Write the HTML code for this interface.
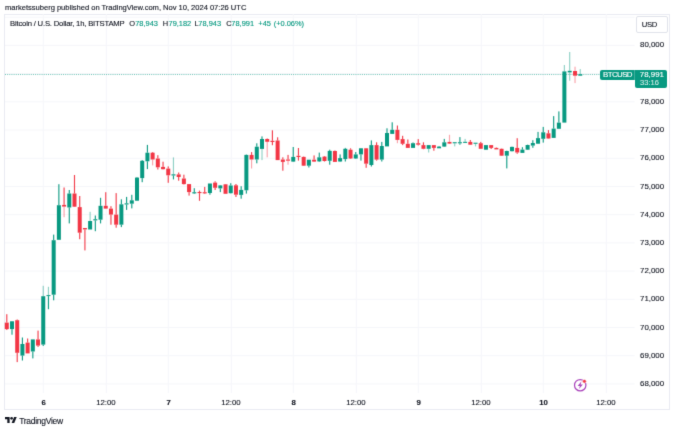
<!DOCTYPE html>
<html><head><meta charset="utf-8"><title>BTCUSD</title>
<style>
html,body{margin:0;padding:0;background:#fff;}
body{width:675px;height:429px;position:relative;overflow:hidden;font-family:"Liberation Sans",sans-serif;}
#all{position:absolute;left:0;top:0;width:675px;height:429px;filter:url(#soft);background:#fff;}
.t{position:absolute;white-space:nowrap;font-family:"Liberation Sans",sans-serif;-webkit-text-stroke:0.12px currentColor;}
#frame{position:absolute;left:4.3px;top:13.7px;width:665.9px;height:396.4px;border:1px solid #e9ebf2;box-sizing:border-box;}
#chart{position:absolute;left:0;top:0;}
.usd{position:absolute;left:636.2px;top:16.1px;width:31.7px;height:16.6px;border:1px solid #e0e3eb;border-radius:2px;box-sizing:border-box;background:#fff;}
.lbl{position:absolute;background:#089981;color:#fff;}
</style></head><body>
<svg width="0" height="0" style="position:absolute"><defs>
<filter id="soft" x="0" y="0" width="100%" height="100%" color-interpolation-filters="sRGB">
<feConvolveMatrix order="3" kernelMatrix="0.0113 0.0838 0.0113 0.0838 0.6193 0.0838 0.0113 0.0838 0.0113" edgeMode="duplicate" preserveAlpha="false"/>
</filter></defs></svg>
<div id="all">
<div id="frame"></div>
<svg id="chart" width="675" height="429" viewBox="0 0 675 429" shape-rendering="auto">
<rect x="5" y="16.69" width="629.6" height="1" fill="#f5f6fa"/>
<rect x="5" y="44.90" width="629.6" height="1" fill="#f5f6fa"/>
<rect x="5" y="73.11" width="629.6" height="1" fill="#f5f6fa"/>
<rect x="5" y="101.32" width="629.6" height="1" fill="#f5f6fa"/>
<rect x="5" y="129.53" width="629.6" height="1" fill="#f5f6fa"/>
<rect x="5" y="157.74" width="629.6" height="1" fill="#f5f6fa"/>
<rect x="5" y="185.95" width="629.6" height="1" fill="#f5f6fa"/>
<rect x="5" y="214.16" width="629.6" height="1" fill="#f5f6fa"/>
<rect x="5" y="242.37" width="629.6" height="1" fill="#f5f6fa"/>
<rect x="5" y="270.58" width="629.6" height="1" fill="#f5f6fa"/>
<rect x="5" y="298.79" width="629.6" height="1" fill="#f5f6fa"/>
<rect x="5" y="327.00" width="629.6" height="1" fill="#f5f6fa"/>
<rect x="5" y="355.21" width="629.6" height="1" fill="#f5f6fa"/>
<rect x="5" y="383.42" width="629.6" height="1" fill="#f5f6fa"/>
<rect x="42.75" y="14" width="1" height="379" fill="#f5f6fa"/>
<rect x="105.80" y="14" width="1" height="379" fill="#f5f6fa"/>
<rect x="167.75" y="14" width="1" height="379" fill="#f5f6fa"/>
<rect x="230.80" y="14" width="1" height="379" fill="#f5f6fa"/>
<rect x="292.75" y="14" width="1" height="379" fill="#f5f6fa"/>
<rect x="355.80" y="14" width="1" height="379" fill="#f5f6fa"/>
<rect x="417.75" y="14" width="1" height="379" fill="#f5f6fa"/>
<rect x="480.80" y="14" width="1" height="379" fill="#f5f6fa"/>
<rect x="542.75" y="14" width="1" height="379" fill="#f5f6fa"/>
<rect x="605.80" y="14" width="1" height="379" fill="#f5f6fa"/>
<line x1="5" y1="74.5" x2="600" y2="74.5" stroke="#089981" stroke-width="1" stroke-dasharray="1 1.15" opacity="0.58"/>
<rect x="6.22" y="314.2" width="1.15" height="8.4" fill="#f23645" opacity="0.95"/>
<rect x="6.22" y="329.1" width="1.15" height="0.9" fill="#f23645" opacity="0.95"/>
<rect x="4.79" y="322.6" width="4.0" height="6.5" fill="#f23645"/>
<rect x="11.43" y="321.0" width="1.15" height="0.3" fill="#089981" opacity="0.95"/>
<rect x="11.43" y="329.1" width="1.15" height="5.6" fill="#089981" opacity="0.95"/>
<rect x="10.00" y="321.3" width="4.0" height="7.8" fill="#089981"/>
<rect x="16.63" y="319.5" width="1.15" height="0.7" fill="#f23645" opacity="0.95"/>
<rect x="16.63" y="352.8" width="1.15" height="9.3" fill="#f23645" opacity="0.95"/>
<rect x="15.21" y="320.2" width="4.0" height="32.6" fill="#f23645"/>
<rect x="21.84" y="337.5" width="1.15" height="6.5" fill="#089981" opacity="0.95"/>
<rect x="21.84" y="355.6" width="1.15" height="4.9" fill="#089981" opacity="0.95"/>
<rect x="20.42" y="344.0" width="4.0" height="11.6" fill="#089981"/>
<rect x="27.05" y="338.5" width="1.15" height="4.1" fill="#f23645" opacity="0.95"/>
<rect x="25.63" y="342.6" width="4.0" height="10.8" fill="#f23645"/>
<rect x="32.26" y="351.5" width="1.15" height="6.9" fill="#089981" opacity="0.95"/>
<rect x="30.83" y="339.4" width="4.0" height="12.1" fill="#089981"/>
<rect x="37.47" y="330.6" width="1.15" height="8.8" fill="#f23645" opacity="0.95"/>
<rect x="37.47" y="345.6" width="1.15" height="1.3" fill="#f23645" opacity="0.95"/>
<rect x="36.04" y="339.4" width="4.0" height="6.2" fill="#f23645"/>
<rect x="42.67" y="285.8" width="1.15" height="10.4" fill="#089981" opacity="0.45"/>
<rect x="42.67" y="344.6" width="1.15" height="1.4" fill="#089981" opacity="0.95"/>
<rect x="41.25" y="296.2" width="4.0" height="48.4" fill="#089981"/>
<rect x="47.88" y="286.8" width="1.15" height="8.3" fill="#089981" opacity="0.45"/>
<rect x="47.88" y="296.1" width="1.15" height="13.1" fill="#089981" opacity="0.95"/>
<rect x="46.46" y="295.1" width="4.0" height="1.0" fill="#089981"/>
<rect x="53.09" y="234.6" width="1.15" height="5.6" fill="#089981" opacity="0.95"/>
<rect x="53.09" y="294.7" width="1.15" height="5.6" fill="#089981" opacity="0.95"/>
<rect x="51.67" y="240.2" width="4.0" height="54.5" fill="#089981"/>
<rect x="58.30" y="184.2" width="1.15" height="21.0" fill="#089981" opacity="0.95"/>
<rect x="56.87" y="205.2" width="4.0" height="34.6" fill="#089981"/>
<rect x="63.51" y="187.5" width="1.15" height="17.4" fill="#f23645" opacity="0.95"/>
<rect x="63.51" y="206.6" width="1.15" height="10.6" fill="#f23645" opacity="0.45"/>
<rect x="62.08" y="204.9" width="4.0" height="1.7" fill="#f23645"/>
<rect x="68.72" y="190.0" width="1.15" height="3.5" fill="#089981" opacity="0.95"/>
<rect x="68.72" y="207.5" width="1.15" height="15.9" fill="#089981" opacity="0.95"/>
<rect x="67.29" y="193.5" width="4.0" height="14.0" fill="#089981"/>
<rect x="73.92" y="175.0" width="1.15" height="18.5" fill="#f23645" opacity="0.95"/>
<rect x="73.92" y="206.7" width="1.15" height="0.3" fill="#f23645" opacity="0.95"/>
<rect x="72.50" y="193.5" width="4.0" height="13.2" fill="#f23645"/>
<rect x="79.13" y="196.0" width="1.15" height="11.1" fill="#f23645" opacity="0.95"/>
<rect x="79.13" y="232.7" width="1.15" height="6.5" fill="#f23645" opacity="0.95"/>
<rect x="77.71" y="207.1" width="4.0" height="25.6" fill="#f23645"/>
<rect x="84.34" y="229.4" width="1.15" height="21.0" fill="#f23645" opacity="0.95"/>
<rect x="82.92" y="228.0" width="4.0" height="1.4" fill="#f23645"/>
<rect x="89.55" y="211.8" width="1.15" height="9.2" fill="#089981" opacity="0.45"/>
<rect x="88.12" y="221.0" width="4.0" height="8.5" fill="#089981"/>
<rect x="94.76" y="215.5" width="1.15" height="3.7" fill="#089981" opacity="0.95"/>
<rect x="94.76" y="220.4" width="1.15" height="10.8" fill="#089981" opacity="0.95"/>
<rect x="93.33" y="219.2" width="4.0" height="1.2" fill="#089981"/>
<rect x="99.97" y="197.8" width="1.15" height="8.0" fill="#089981" opacity="0.95"/>
<rect x="99.97" y="219.7" width="1.15" height="3.7" fill="#089981" opacity="0.95"/>
<rect x="98.54" y="205.8" width="4.0" height="13.9" fill="#089981"/>
<rect x="105.17" y="192.2" width="1.15" height="13.6" fill="#f23645" opacity="0.95"/>
<rect x="105.17" y="208.6" width="1.15" height="0.4" fill="#f23645" opacity="0.45"/>
<rect x="103.75" y="205.8" width="4.0" height="2.8" fill="#f23645"/>
<rect x="110.38" y="206.2" width="1.15" height="2.4" fill="#f23645" opacity="0.95"/>
<rect x="110.38" y="214.6" width="1.15" height="10.1" fill="#f23645" opacity="0.95"/>
<rect x="108.96" y="208.6" width="4.0" height="6.0" fill="#f23645"/>
<rect x="115.59" y="193.1" width="1.15" height="21.5" fill="#f23645" opacity="0.95"/>
<rect x="115.59" y="224.7" width="1.15" height="3.0" fill="#f23645" opacity="0.95"/>
<rect x="114.17" y="214.6" width="4.0" height="10.1" fill="#f23645"/>
<rect x="120.80" y="199.3" width="1.15" height="5.0" fill="#089981" opacity="0.95"/>
<rect x="120.80" y="224.7" width="1.15" height="2.4" fill="#089981" opacity="0.95"/>
<rect x="119.37" y="204.3" width="4.0" height="20.4" fill="#089981"/>
<rect x="126.01" y="196.9" width="1.15" height="6.4" fill="#089981" opacity="0.95"/>
<rect x="126.01" y="204.5" width="1.15" height="5.4" fill="#089981" opacity="0.95"/>
<rect x="124.58" y="203.3" width="4.0" height="1.2" fill="#089981"/>
<rect x="131.22" y="194.8" width="1.15" height="5.5" fill="#089981" opacity="0.95"/>
<rect x="131.22" y="203.7" width="1.15" height="4.7" fill="#089981" opacity="0.95"/>
<rect x="129.79" y="200.3" width="4.0" height="3.4" fill="#089981"/>
<rect x="136.42" y="177.0" width="1.15" height="0.6" fill="#089981" opacity="0.95"/>
<rect x="136.42" y="200.7" width="1.15" height="0.3" fill="#089981" opacity="0.95"/>
<rect x="135.00" y="177.6" width="4.0" height="23.1" fill="#089981"/>
<rect x="141.63" y="160.0" width="1.15" height="0.8" fill="#089981" opacity="0.95"/>
<rect x="141.63" y="178.1" width="1.15" height="4.1" fill="#089981" opacity="0.95"/>
<rect x="140.21" y="160.8" width="4.0" height="17.3" fill="#089981"/>
<rect x="146.84" y="144.9" width="1.15" height="7.8" fill="#089981" opacity="0.95"/>
<rect x="146.84" y="161.3" width="1.15" height="7.8" fill="#089981" opacity="0.95"/>
<rect x="145.42" y="152.7" width="4.0" height="8.6" fill="#089981"/>
<rect x="152.05" y="152.0" width="1.15" height="0.7" fill="#f23645" opacity="0.95"/>
<rect x="152.05" y="159.5" width="1.15" height="5.9" fill="#f23645" opacity="0.45"/>
<rect x="150.62" y="152.7" width="4.0" height="6.8" fill="#f23645"/>
<rect x="157.26" y="155.2" width="1.15" height="3.3" fill="#f23645" opacity="0.95"/>
<rect x="157.26" y="167.3" width="1.15" height="2.2" fill="#f23645" opacity="0.95"/>
<rect x="155.83" y="158.5" width="4.0" height="8.8" fill="#f23645"/>
<rect x="162.47" y="161.7" width="1.15" height="5.2" fill="#f23645" opacity="0.95"/>
<rect x="162.47" y="169.2" width="1.15" height="0.3" fill="#f23645" opacity="0.95"/>
<rect x="161.04" y="166.9" width="4.0" height="2.3" fill="#f23645"/>
<rect x="167.67" y="166.4" width="1.15" height="2.2" fill="#f23645" opacity="0.95"/>
<rect x="167.67" y="175.3" width="1.15" height="7.5" fill="#f23645" opacity="0.95"/>
<rect x="166.25" y="168.6" width="4.0" height="6.7" fill="#f23645"/>
<rect x="172.88" y="157.4" width="1.15" height="16.9" fill="#089981" opacity="0.45"/>
<rect x="172.88" y="175.5" width="1.15" height="3.9" fill="#089981" opacity="0.95"/>
<rect x="171.46" y="174.3" width="4.0" height="1.2" fill="#089981"/>
<rect x="178.09" y="172.5" width="1.15" height="1.9" fill="#f23645" opacity="0.95"/>
<rect x="178.09" y="177.0" width="1.15" height="3.7" fill="#f23645" opacity="0.95"/>
<rect x="176.67" y="174.4" width="4.0" height="2.6" fill="#f23645"/>
<rect x="183.30" y="174.7" width="1.15" height="3.8" fill="#f23645" opacity="0.95"/>
<rect x="183.30" y="184.1" width="1.15" height="0.4" fill="#f23645" opacity="0.95"/>
<rect x="181.87" y="178.5" width="4.0" height="5.6" fill="#f23645"/>
<rect x="188.51" y="192.1" width="1.15" height="3.5" fill="#f23645" opacity="0.95"/>
<rect x="187.08" y="184.1" width="4.0" height="8.0" fill="#f23645"/>
<rect x="193.72" y="188.2" width="1.15" height="4.0" fill="#089981" opacity="0.95"/>
<rect x="193.72" y="193.4" width="1.15" height="0.6" fill="#089981" opacity="0.95"/>
<rect x="192.29" y="192.2" width="4.0" height="1.2" fill="#089981"/>
<rect x="198.92" y="190.6" width="1.15" height="1.4" fill="#f23645" opacity="0.95"/>
<rect x="198.92" y="193.1" width="1.15" height="7.7" fill="#f23645" opacity="0.95"/>
<rect x="197.50" y="192.0" width="4.0" height="1.1" fill="#f23645"/>
<rect x="204.13" y="186.9" width="1.15" height="5.3" fill="#f23645" opacity="0.95"/>
<rect x="204.13" y="193.4" width="1.15" height="0.6" fill="#f23645" opacity="0.95"/>
<rect x="202.71" y="192.2" width="4.0" height="1.2" fill="#f23645"/>
<rect x="209.34" y="193.0" width="1.15" height="1.7" fill="#089981" opacity="0.95"/>
<rect x="207.92" y="183.5" width="4.0" height="9.5" fill="#089981"/>
<rect x="214.55" y="181.3" width="1.15" height="1.3" fill="#f23645" opacity="0.95"/>
<rect x="214.55" y="187.8" width="1.15" height="2.2" fill="#f23645" opacity="0.95"/>
<rect x="213.12" y="182.6" width="4.0" height="5.2" fill="#f23645"/>
<rect x="219.76" y="185.0" width="1.15" height="0.4" fill="#089981" opacity="0.95"/>
<rect x="219.76" y="188.4" width="1.15" height="3.7" fill="#089981" opacity="0.95"/>
<rect x="218.33" y="185.4" width="4.0" height="3.0" fill="#089981"/>
<rect x="224.97" y="184.0" width="1.15" height="0.3" fill="#f23645" opacity="0.95"/>
<rect x="223.54" y="184.3" width="4.0" height="9.5" fill="#f23645"/>
<rect x="230.17" y="183.2" width="1.15" height="2.3" fill="#089981" opacity="0.95"/>
<rect x="230.17" y="193.2" width="1.15" height="0.3" fill="#089981" opacity="0.95"/>
<rect x="228.75" y="185.5" width="4.0" height="7.7" fill="#089981"/>
<rect x="235.38" y="184.0" width="1.15" height="1.3" fill="#f23645" opacity="0.95"/>
<rect x="235.38" y="194.7" width="1.15" height="2.3" fill="#f23645" opacity="0.95"/>
<rect x="233.96" y="185.3" width="4.0" height="9.4" fill="#f23645"/>
<rect x="240.59" y="186.2" width="1.15" height="3.7" fill="#089981" opacity="0.95"/>
<rect x="240.59" y="194.9" width="1.15" height="3.8" fill="#089981" opacity="0.95"/>
<rect x="239.17" y="189.9" width="4.0" height="5.0" fill="#089981"/>
<rect x="245.80" y="154.5" width="1.15" height="0.4" fill="#089981" opacity="0.95"/>
<rect x="245.80" y="190.3" width="1.15" height="3.3" fill="#089981" opacity="0.95"/>
<rect x="244.37" y="154.9" width="4.0" height="35.4" fill="#089981"/>
<rect x="251.01" y="152.1" width="1.15" height="2.8" fill="#f23645" opacity="0.95"/>
<rect x="251.01" y="159.5" width="1.15" height="9.0" fill="#f23645" opacity="0.45"/>
<rect x="249.58" y="154.9" width="4.0" height="4.6" fill="#f23645"/>
<rect x="256.22" y="143.3" width="1.15" height="3.4" fill="#089981" opacity="0.95"/>
<rect x="256.22" y="159.5" width="1.15" height="3.8" fill="#089981" opacity="0.95"/>
<rect x="254.79" y="146.7" width="4.0" height="12.8" fill="#089981"/>
<rect x="261.42" y="136.4" width="1.15" height="2.6" fill="#089981" opacity="0.95"/>
<rect x="261.42" y="148.9" width="1.15" height="11.2" fill="#089981" opacity="0.45"/>
<rect x="260.00" y="139.0" width="4.0" height="9.9" fill="#089981"/>
<rect x="266.63" y="138.5" width="1.15" height="0.5" fill="#f23645" opacity="0.95"/>
<rect x="266.63" y="141.8" width="1.15" height="15.5" fill="#f23645" opacity="0.45"/>
<rect x="265.21" y="139.0" width="4.0" height="2.8" fill="#f23645"/>
<rect x="271.84" y="130.3" width="1.15" height="10.5" fill="#f23645" opacity="0.95"/>
<rect x="271.84" y="142.0" width="1.15" height="3.2" fill="#f23645" opacity="0.95"/>
<rect x="270.42" y="140.8" width="4.0" height="1.2" fill="#f23645"/>
<rect x="277.05" y="137.3" width="1.15" height="3.2" fill="#f23645" opacity="0.95"/>
<rect x="275.62" y="140.5" width="4.0" height="19.6" fill="#f23645"/>
<rect x="282.26" y="157.3" width="1.15" height="2.2" fill="#f23645" opacity="0.95"/>
<rect x="282.26" y="161.9" width="1.15" height="8.8" fill="#f23645" opacity="0.95"/>
<rect x="280.83" y="159.5" width="4.0" height="2.4" fill="#f23645"/>
<rect x="287.47" y="154.9" width="1.15" height="4.6" fill="#f23645" opacity="0.95"/>
<rect x="287.47" y="160.7" width="1.15" height="4.0" fill="#f23645" opacity="0.45"/>
<rect x="286.04" y="159.5" width="4.0" height="1.2" fill="#f23645"/>
<rect x="292.67" y="147.0" width="1.15" height="9.9" fill="#089981" opacity="0.95"/>
<rect x="292.67" y="161.6" width="1.15" height="0.4" fill="#089981" opacity="0.95"/>
<rect x="291.25" y="156.9" width="4.0" height="4.7" fill="#089981"/>
<rect x="297.88" y="148.0" width="1.15" height="7.8" fill="#f23645" opacity="0.95"/>
<rect x="297.88" y="157.0" width="1.15" height="3.6" fill="#f23645" opacity="0.95"/>
<rect x="296.46" y="155.8" width="4.0" height="1.2" fill="#f23645"/>
<rect x="303.09" y="156.5" width="1.15" height="0.4" fill="#f23645" opacity="0.95"/>
<rect x="303.09" y="165.7" width="1.15" height="0.3" fill="#f23645" opacity="0.95"/>
<rect x="301.67" y="156.9" width="4.0" height="8.8" fill="#f23645"/>
<rect x="308.30" y="165.7" width="1.15" height="1.8" fill="#089981" opacity="0.95"/>
<rect x="306.87" y="159.7" width="4.0" height="6.0" fill="#089981"/>
<rect x="313.51" y="155.4" width="1.15" height="4.3" fill="#f23645" opacity="0.95"/>
<rect x="313.51" y="161.6" width="1.15" height="0.4" fill="#f23645" opacity="0.95"/>
<rect x="312.08" y="159.7" width="4.0" height="1.9" fill="#f23645"/>
<rect x="318.71" y="152.6" width="1.15" height="4.7" fill="#089981" opacity="0.95"/>
<rect x="318.71" y="161.4" width="1.15" height="0.6" fill="#089981" opacity="0.95"/>
<rect x="317.29" y="157.3" width="4.0" height="4.1" fill="#089981"/>
<rect x="323.92" y="156.0" width="1.15" height="0.6" fill="#f23645" opacity="0.95"/>
<rect x="323.92" y="161.0" width="1.15" height="0.5" fill="#f23645" opacity="0.95"/>
<rect x="322.50" y="156.6" width="4.0" height="4.4" fill="#f23645"/>
<rect x="329.13" y="149.7" width="1.15" height="1.2" fill="#089981" opacity="0.95"/>
<rect x="329.13" y="160.8" width="1.15" height="3.9" fill="#089981" opacity="0.95"/>
<rect x="327.71" y="150.9" width="4.0" height="9.9" fill="#089981"/>
<rect x="334.34" y="150.5" width="1.15" height="0.5" fill="#f23645" opacity="0.95"/>
<rect x="332.91" y="151.0" width="4.0" height="10.9" fill="#f23645"/>
<rect x="339.55" y="154.4" width="1.15" height="3.7" fill="#089981" opacity="0.95"/>
<rect x="339.55" y="161.5" width="1.15" height="0.5" fill="#089981" opacity="0.95"/>
<rect x="338.12" y="158.1" width="4.0" height="3.4" fill="#089981"/>
<rect x="344.76" y="147.9" width="1.15" height="0.9" fill="#089981" opacity="0.95"/>
<rect x="344.76" y="159.1" width="1.15" height="2.4" fill="#089981" opacity="0.95"/>
<rect x="343.33" y="148.8" width="4.0" height="10.3" fill="#089981"/>
<rect x="349.96" y="148.3" width="1.15" height="1.4" fill="#f23645" opacity="0.95"/>
<rect x="349.96" y="158.5" width="1.15" height="0.5" fill="#f23645" opacity="0.95"/>
<rect x="348.54" y="149.7" width="4.0" height="8.8" fill="#f23645"/>
<rect x="355.17" y="152.0" width="1.15" height="2.4" fill="#089981" opacity="0.95"/>
<rect x="355.17" y="158.5" width="1.15" height="0.5" fill="#089981" opacity="0.95"/>
<rect x="353.75" y="154.4" width="4.0" height="4.1" fill="#089981"/>
<rect x="360.38" y="148.0" width="1.15" height="0.3" fill="#089981" opacity="0.95"/>
<rect x="360.38" y="154.4" width="1.15" height="6.2" fill="#089981" opacity="0.95"/>
<rect x="358.96" y="148.3" width="4.0" height="6.1" fill="#089981"/>
<rect x="365.59" y="148.0" width="1.15" height="0.3" fill="#f23645" opacity="0.95"/>
<rect x="365.59" y="163.7" width="1.15" height="4.1" fill="#f23645" opacity="0.95"/>
<rect x="364.16" y="148.3" width="4.0" height="15.4" fill="#f23645"/>
<rect x="370.80" y="140.4" width="1.15" height="4.7" fill="#089981" opacity="0.95"/>
<rect x="370.80" y="165.0" width="1.15" height="1.5" fill="#089981" opacity="0.95"/>
<rect x="369.37" y="145.1" width="4.0" height="19.9" fill="#089981"/>
<rect x="376.01" y="142.3" width="1.15" height="2.8" fill="#f23645" opacity="0.95"/>
<rect x="376.01" y="159.6" width="1.15" height="1.0" fill="#f23645" opacity="0.95"/>
<rect x="374.58" y="145.1" width="4.0" height="14.5" fill="#f23645"/>
<rect x="381.21" y="141.9" width="1.15" height="4.1" fill="#089981" opacity="0.95"/>
<rect x="381.21" y="159.6" width="1.15" height="1.9" fill="#089981" opacity="0.95"/>
<rect x="379.79" y="146.0" width="4.0" height="13.6" fill="#089981"/>
<rect x="386.42" y="128.3" width="1.15" height="4.7" fill="#089981" opacity="0.95"/>
<rect x="385.00" y="133.0" width="4.0" height="13.4" fill="#089981"/>
<rect x="391.63" y="122.3" width="1.15" height="7.5" fill="#089981" opacity="0.95"/>
<rect x="390.21" y="129.8" width="4.0" height="4.1" fill="#089981"/>
<rect x="396.84" y="125.5" width="1.15" height="4.3" fill="#f23645" opacity="0.95"/>
<rect x="396.84" y="139.9" width="1.15" height="3.3" fill="#f23645" opacity="0.45"/>
<rect x="395.41" y="129.8" width="4.0" height="10.1" fill="#f23645"/>
<rect x="402.05" y="135.8" width="1.15" height="3.3" fill="#f23645" opacity="0.95"/>
<rect x="402.05" y="143.8" width="1.15" height="1.3" fill="#f23645" opacity="0.95"/>
<rect x="400.62" y="139.1" width="4.0" height="4.7" fill="#f23645"/>
<rect x="407.26" y="139.5" width="1.15" height="4.3" fill="#f23645" opacity="0.95"/>
<rect x="405.83" y="143.8" width="4.0" height="4.1" fill="#f23645"/>
<rect x="412.46" y="142.5" width="1.15" height="0.7" fill="#089981" opacity="0.95"/>
<rect x="411.04" y="143.2" width="4.0" height="4.7" fill="#089981"/>
<rect x="417.67" y="139.1" width="1.15" height="4.1" fill="#f23645" opacity="0.95"/>
<rect x="417.67" y="144.7" width="1.15" height="0.8" fill="#f23645" opacity="0.95"/>
<rect x="416.25" y="143.2" width="4.0" height="1.5" fill="#f23645"/>
<rect x="422.88" y="142.3" width="1.15" height="2.8" fill="#f23645" opacity="0.95"/>
<rect x="422.88" y="148.8" width="1.15" height="0.4" fill="#f23645" opacity="0.95"/>
<rect x="421.46" y="145.1" width="4.0" height="3.7" fill="#f23645"/>
<rect x="428.09" y="148.8" width="1.15" height="3.7" fill="#089981" opacity="0.45"/>
<rect x="426.66" y="145.1" width="4.0" height="3.7" fill="#089981"/>
<rect x="433.30" y="147.9" width="1.15" height="2.8" fill="#f23645" opacity="0.95"/>
<rect x="431.87" y="145.1" width="4.0" height="2.8" fill="#f23645"/>
<rect x="438.51" y="146.0" width="1.15" height="0.6" fill="#089981" opacity="0.95"/>
<rect x="437.08" y="146.6" width="4.0" height="1.7" fill="#089981"/>
<rect x="443.71" y="138.9" width="1.15" height="3.4" fill="#089981" opacity="0.95"/>
<rect x="443.71" y="146.6" width="1.15" height="0.4" fill="#089981" opacity="0.95"/>
<rect x="442.29" y="142.3" width="4.0" height="4.3" fill="#089981"/>
<rect x="448.92" y="134.8" width="1.15" height="7.1" fill="#f23645" opacity="0.45"/>
<rect x="448.92" y="143.6" width="1.15" height="0.4" fill="#f23645" opacity="0.95"/>
<rect x="447.50" y="141.9" width="4.0" height="1.7" fill="#f23645"/>
<rect x="454.13" y="143.3" width="1.15" height="3.1" fill="#089981" opacity="0.45"/>
<rect x="452.71" y="142.2" width="4.0" height="1.1" fill="#089981"/>
<rect x="459.34" y="137.1" width="1.15" height="5.1" fill="#089981" opacity="0.95"/>
<rect x="459.34" y="143.3" width="1.15" height="1.4" fill="#089981" opacity="0.95"/>
<rect x="457.91" y="142.2" width="4.0" height="1.1" fill="#089981"/>
<rect x="464.55" y="138.9" width="1.15" height="2.9" fill="#089981" opacity="0.45"/>
<rect x="463.12" y="141.8" width="4.0" height="1.1" fill="#089981"/>
<rect x="469.76" y="140.0" width="1.15" height="1.9" fill="#f23645" opacity="0.95"/>
<rect x="469.76" y="144.7" width="1.15" height="0.3" fill="#f23645" opacity="0.95"/>
<rect x="468.33" y="141.9" width="4.0" height="2.8" fill="#f23645"/>
<rect x="474.96" y="143.8" width="1.15" height="2.6" fill="#089981" opacity="0.45"/>
<rect x="473.54" y="142.7" width="4.0" height="1.1" fill="#089981"/>
<rect x="480.17" y="141.9" width="1.15" height="1.3" fill="#f23645" opacity="0.95"/>
<rect x="478.75" y="143.2" width="4.0" height="5.6" fill="#f23645"/>
<rect x="485.38" y="149.7" width="1.15" height="0.3" fill="#089981" opacity="0.95"/>
<rect x="483.96" y="145.1" width="4.0" height="4.6" fill="#089981"/>
<rect x="490.59" y="147.9" width="1.15" height="1.1" fill="#f23645" opacity="0.95"/>
<rect x="489.16" y="145.1" width="4.0" height="2.8" fill="#f23645"/>
<rect x="495.80" y="147.5" width="1.15" height="0.4" fill="#f23645" opacity="0.95"/>
<rect x="494.37" y="147.9" width="4.0" height="1.5" fill="#f23645"/>
<rect x="501.01" y="148.5" width="1.15" height="0.3" fill="#f23645" opacity="0.95"/>
<rect x="501.01" y="155.7" width="1.15" height="0.3" fill="#f23645" opacity="0.95"/>
<rect x="499.58" y="148.8" width="4.0" height="6.9" fill="#f23645"/>
<rect x="506.21" y="150.7" width="1.15" height="0.3" fill="#089981" opacity="0.95"/>
<rect x="506.21" y="155.7" width="1.15" height="12.7" fill="#089981" opacity="0.95"/>
<rect x="504.79" y="151.0" width="4.0" height="4.7" fill="#089981"/>
<rect x="511.42" y="146.6" width="1.15" height="0.3" fill="#089981" opacity="0.95"/>
<rect x="511.42" y="151.2" width="1.15" height="0.3" fill="#089981" opacity="0.95"/>
<rect x="510.00" y="146.9" width="4.0" height="4.3" fill="#089981"/>
<rect x="516.63" y="138.2" width="1.15" height="9.7" fill="#f23645" opacity="0.95"/>
<rect x="516.63" y="152.5" width="1.15" height="1.3" fill="#f23645" opacity="0.95"/>
<rect x="515.21" y="147.9" width="4.0" height="4.6" fill="#f23645"/>
<rect x="521.84" y="147.2" width="1.15" height="2.4" fill="#089981" opacity="0.95"/>
<rect x="520.41" y="149.6" width="4.0" height="3.3" fill="#089981"/>
<rect x="527.05" y="144.7" width="1.15" height="0.3" fill="#089981" opacity="0.95"/>
<rect x="527.05" y="149.7" width="1.15" height="0.3" fill="#089981" opacity="0.95"/>
<rect x="525.62" y="145.0" width="4.0" height="4.7" fill="#089981"/>
<rect x="532.26" y="140.2" width="1.15" height="2.8" fill="#089981" opacity="0.95"/>
<rect x="532.26" y="145.6" width="1.15" height="2.2" fill="#089981" opacity="0.95"/>
<rect x="530.83" y="143.0" width="4.0" height="2.6" fill="#089981"/>
<rect x="537.46" y="131.9" width="1.15" height="6.2" fill="#089981" opacity="0.95"/>
<rect x="537.46" y="143.7" width="1.15" height="0.3" fill="#089981" opacity="0.95"/>
<rect x="536.04" y="138.1" width="4.0" height="5.6" fill="#089981"/>
<rect x="542.67" y="126.9" width="1.15" height="5.4" fill="#089981" opacity="0.95"/>
<rect x="542.67" y="138.8" width="1.15" height="3.8" fill="#089981" opacity="0.95"/>
<rect x="541.25" y="132.3" width="4.0" height="6.5" fill="#089981"/>
<rect x="547.88" y="130.1" width="1.15" height="3.2" fill="#f23645" opacity="0.95"/>
<rect x="547.88" y="138.5" width="1.15" height="0.3" fill="#f23645" opacity="0.95"/>
<rect x="546.46" y="133.3" width="4.0" height="5.2" fill="#f23645"/>
<rect x="553.09" y="116.1" width="1.15" height="12.5" fill="#089981" opacity="0.95"/>
<rect x="551.66" y="128.6" width="4.0" height="9.3" fill="#089981"/>
<rect x="558.30" y="111.4" width="1.15" height="11.2" fill="#089981" opacity="0.95"/>
<rect x="556.87" y="122.6" width="4.0" height="6.2" fill="#089981"/>
<rect x="563.80" y="65.0" width="1.15" height="6.4" fill="#089981" opacity="0.45"/>
<rect x="562.38" y="71.4" width="4.0" height="51.2" fill="#089981"/>
<rect x="569.11" y="52.0" width="1.15" height="18.8" fill="#089981" opacity="0.45"/>
<rect x="569.11" y="72.4" width="1.15" height="8.3" fill="#089981" opacity="0.45"/>
<rect x="567.69" y="70.8" width="4.0" height="1.6" fill="#089981"/>
<rect x="574.47" y="66.7" width="1.15" height="4.3" fill="#f23645" opacity="0.45"/>
<rect x="574.47" y="75.7" width="1.15" height="7.4" fill="#f23645" opacity="0.45"/>
<rect x="573.05" y="71.0" width="4.0" height="4.7" fill="#f23645"/>
<rect x="579.68" y="69.1" width="1.15" height="5.1" fill="#089981" opacity="0.45"/>
<rect x="578.25" y="74.2" width="4.0" height="1.5" fill="#089981"/>
</svg>
<div class="usd"></div>
<div class="t" style="left:641.80px;top:20px;font-size:7.7px;line-height:9px;color:#131722;font-weight:normal;letter-spacing:-0.386px;">USD</div>
<div class="lbl" style="left:600.3px;top:69.5px;width:34.6px;height:10px;border-radius:2px 0 0 2px;"></div>
<div class="lbl" style="left:634.7px;top:69.5px;width:32.8px;height:18.3px;border-radius:0 2px 2px 2px;"></div>
<div style="position:absolute;left:634.2px;top:69.5px;width:1px;height:10px;background:rgba(255,255,255,0.22)"></div>
<div class="t" style="left:603.00px;top:70px;font-size:7.9px;line-height:9px;color:#fff;font-weight:normal;letter-spacing:-0.580px;">BTCUSD</div>
<div class="t" style="left:639.80px;top:70px;font-size:7.9px;line-height:9px;color:#fff;font-weight:normal;">78,991</div>
<div class="t" style="left:640.10px;top:78px;font-size:7.5px;line-height:9px;color:rgba(255,255,255,0.75);font-weight:normal;">33:16</div>
<div class="t" style="left:5.00px;top:3px;font-size:7.6px;line-height:9px;color:#131722;font-weight:normal;letter-spacing:-0.031px;">marketssuberg published on TradingView.com, Nov 10, 2024 07:26 UTC</div>
<div class="t" style="left:10.00px;top:19px;font-size:7.7px;line-height:9px;color:#131722;font-weight:normal;letter-spacing:-0.191px;">Bitcoin / U.S. Dollar, 1h, BITSTAMP</div>
<div class="t" style="left:129.30px;top:19px;font-size:7.45px;line-height:9px;color:#131722;font-weight:normal;">O</div>
<div class="t" style="left:135.20px;top:19px;font-size:7.45px;line-height:9px;color:#089981;font-weight:normal;">78,943</div>
<div class="t" style="left:162.80px;top:19px;font-size:7.45px;line-height:9px;color:#131722;font-weight:normal;">H</div>
<div class="t" style="left:168.50px;top:19px;font-size:7.45px;line-height:9px;color:#089981;font-weight:normal;">79,182</div>
<div class="t" style="left:194.50px;top:19px;font-size:7.45px;line-height:9px;color:#131722;font-weight:normal;">L</div>
<div class="t" style="left:198.30px;top:19px;font-size:7.45px;line-height:9px;color:#089981;font-weight:normal;">78,943</div>
<div class="t" style="left:226.30px;top:19px;font-size:7.45px;line-height:9px;color:#131722;font-weight:normal;">C</div>
<div class="t" style="left:231.30px;top:19px;font-size:7.45px;line-height:9px;color:#089981;font-weight:normal;">78,991</div>
<div class="t" style="left:258.30px;top:19px;font-size:7.45px;line-height:9px;color:#089981;font-weight:normal;">+45</div>
<div class="t" style="left:273.70px;top:19px;font-size:7.45px;line-height:9px;color:#089981;font-weight:normal;">(+0.06%)</div>
<div class="t" style="left:640.00px;top:40px;font-size:7.9px;line-height:9px;color:#131722;font-weight:normal;">80,000</div>
<div class="t" style="left:640.00px;top:97px;font-size:7.9px;line-height:9px;color:#131722;font-weight:normal;">78,000</div>
<div class="t" style="left:640.00px;top:125px;font-size:7.9px;line-height:9px;color:#131722;font-weight:normal;">77,000</div>
<div class="t" style="left:640.00px;top:153px;font-size:7.9px;line-height:9px;color:#131722;font-weight:normal;">76,000</div>
<div class="t" style="left:640.00px;top:182px;font-size:7.9px;line-height:9px;color:#131722;font-weight:normal;">75,000</div>
<div class="t" style="left:640.00px;top:210px;font-size:7.9px;line-height:9px;color:#131722;font-weight:normal;">74,000</div>
<div class="t" style="left:640.00px;top:238px;font-size:7.9px;line-height:9px;color:#131722;font-weight:normal;">73,000</div>
<div class="t" style="left:640.00px;top:266px;font-size:7.9px;line-height:9px;color:#131722;font-weight:normal;">72,000</div>
<div class="t" style="left:640.00px;top:294px;font-size:7.9px;line-height:9px;color:#131722;font-weight:normal;">71,000</div>
<div class="t" style="left:640.00px;top:323px;font-size:7.9px;line-height:9px;color:#131722;font-weight:normal;">70,000</div>
<div class="t" style="left:640.00px;top:351px;font-size:7.9px;line-height:9px;color:#131722;font-weight:normal;">69,000</div>
<div class="t" style="left:640.00px;top:379px;font-size:7.9px;line-height:9px;color:#131722;font-weight:normal;">68,000</div>
<div class="t" style="left:-6.45px;width:100px;text-align:center;top:398px;font-size:7.8px;line-height:9px;color:#131722;font-weight:bold;">6</div>
<div class="t" style="left:55.95px;width:100px;text-align:center;top:398px;font-size:7.8px;line-height:9px;color:#131722;font-weight:normal;">12:00</div>
<div class="t" style="left:118.55px;width:100px;text-align:center;top:398px;font-size:7.8px;line-height:9px;color:#131722;font-weight:bold;">7</div>
<div class="t" style="left:180.95px;width:100px;text-align:center;top:398px;font-size:7.8px;line-height:9px;color:#131722;font-weight:normal;">12:00</div>
<div class="t" style="left:243.55px;width:100px;text-align:center;top:398px;font-size:7.8px;line-height:9px;color:#131722;font-weight:bold;">8</div>
<div class="t" style="left:305.95px;width:100px;text-align:center;top:398px;font-size:7.8px;line-height:9px;color:#131722;font-weight:normal;">12:00</div>
<div class="t" style="left:368.55px;width:100px;text-align:center;top:398px;font-size:7.8px;line-height:9px;color:#131722;font-weight:bold;">9</div>
<div class="t" style="left:430.95px;width:100px;text-align:center;top:398px;font-size:7.8px;line-height:9px;color:#131722;font-weight:normal;">12:00</div>
<div class="t" style="left:493.55px;width:100px;text-align:center;top:398px;font-size:7.8px;line-height:9px;color:#131722;font-weight:bold;">10</div>
<div class="t" style="left:555.95px;width:100px;text-align:center;top:398px;font-size:7.8px;line-height:9px;color:#131722;font-weight:normal;">12:00</div>
<!-- lightning icon -->
<svg style="position:absolute;left:572.2px;top:377.4px" width="17" height="17" viewBox="0 0 17 17">
<circle cx="8.2" cy="8.2" r="5.7" fill="#fff" stroke="#ab47bc" stroke-width="1.25"/>
<path d="M9.5 4.3 L5.6 9.0 L7.9 9.0 L7.0 12.1 L10.9 7.4 L8.6 7.4 Z" fill="#ab47bc"/>
<circle cx="12.4" cy="4.3" r="1.9" fill="#f23645" stroke="#fff" stroke-width="0.6"/>
</svg>
<!-- TradingView logo -->
<svg style="position:absolute;left:5px;top:417.2px" width="11.9" height="6" viewBox="0 4 36 18" preserveAspectRatio="none">
<path d="M14 22H7V11H0V4h14v18z" fill="#131722"/>
<circle cx="20" cy="8" r="4" fill="#131722"/>
<path d="M28 22h-8l7.500-18h8L28 22z" fill="#131722"/>
</svg>
<div class="t" style="left:19.20px;top:416px;font-size:8.5px;line-height:10px;color:#131722;font-weight:normal;letter-spacing:-0.289px;">TradingView</div>
</div></body></html>
